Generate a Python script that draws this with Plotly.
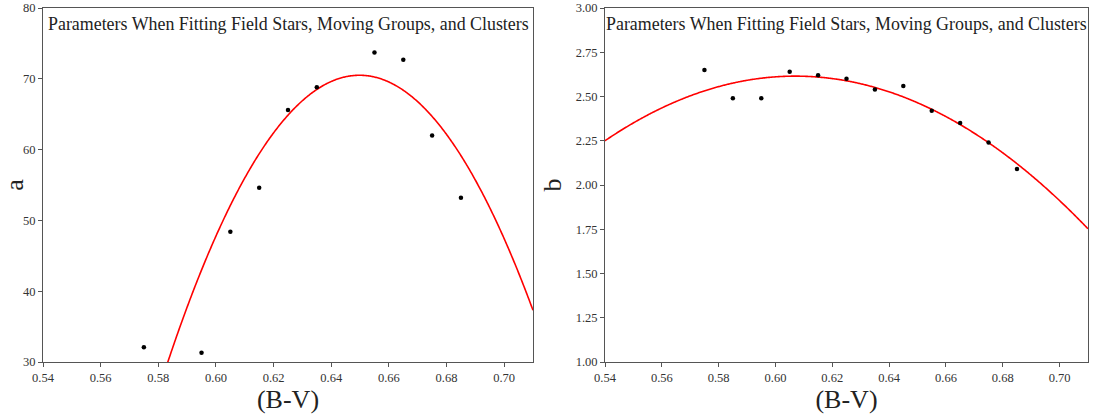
import numpy as np
import plotly.graph_objects as go

# Measured parameters per (B-V) bin
bv_a = [0.575, 0.595, 0.605, 0.615, 0.625, 0.635, 0.655, 0.665, 0.675, 0.685]
a_vals = [32.1, 31.3, 48.4, 54.6, 65.6, 68.8, 73.7, 72.7, 62.0, 53.2]

bv_b = [0.575, 0.585, 0.595, 0.605, 0.615, 0.625, 0.635, 0.645, 0.655, 0.665, 0.675, 0.685]
b_vals = [2.65, 2.49, 2.49, 2.64, 2.62, 2.60, 2.54, 2.56, 2.42, 2.35, 2.24, 2.09]

# Quadratic fits: vertex (x0, y0) and curvature k  ->  y = y0 - k (x - x0)^2
fit_a = [0.6498, 70.5, 9160.0]
fit_b = [0.607, 2.615, 81.3]

x_range = [0.54, 0.71]
x_ticks = [0.54, 0.56, 0.58, 0.60, 0.62, 0.64, 0.66, 0.68, 0.70]
a_ticks = [30, 40, 50, 60, 70, 80]
b_ticks = [1.00, 1.25, 1.50, 1.75, 2.00, 2.25, 2.50, 2.75, 3.00]

title_text = "Parameters When Fitting Field Stars, Moving Groups, and Clusters"
FONT = "Liberation Serif, Times New Roman, serif"

xs = np.linspace(x_range[0], x_range[1], 600)


def quad(p, x):
    return p[1] - p[2] * (x - p[0]) ** 2


fig = go.Figure()

fig.add_trace(go.Scatter(x=xs, y=quad(fit_a, xs), mode="lines",
                         line=dict(color="red", width=1.6, simplify=False),
                         xaxis="x", yaxis="y", showlegend=False))
fig.add_trace(go.Scatter(x=bv_a, y=a_vals, mode="markers",
                         marker=dict(color="black", size=4.5),
                         xaxis="x", yaxis="y", showlegend=False))
fig.add_trace(go.Scatter(x=xs, y=quad(fit_b, xs), mode="lines",
                         line=dict(color="red", width=1.6, simplify=False),
                         xaxis="x2", yaxis="y2", showlegend=False))
fig.add_trace(go.Scatter(x=bv_b, y=b_vals, mode="markers",
                         marker=dict(color="black", size=4.5),
                         xaxis="x2", yaxis="y2", showlegend=False))

W, H = 1094, 414
axis_common = dict(showgrid=False, zeroline=False, showline=True, mirror=True,
                   linecolor="#555555", linewidth=1, ticks="outside", ticklen=4,
                   tickcolor="#555555", automargin=False,
                   tickfont=dict(family=FONT, size=12.5, color="#333333"))

x_fmt = dict(range=x_range, tickvals=x_ticks, ticktext=[f"{v:.2f}" for v in x_ticks],
             title=dict(text="(B-V)", font=dict(family=FONT, size=26, color="#222222"), standoff=4))

fig.update_layout(
    width=W, height=H,
    margin=dict(l=0, r=0, t=8, b=52),
    plot_bgcolor="white", paper_bgcolor="white",
    xaxis=dict(domain=[43 / W, 533 / W], anchor="y", **x_fmt, **axis_common),
    yaxis=dict(domain=[0, 1], anchor="x", range=[30, 80], tickvals=a_ticks,
               ticktext=[str(v) for v in a_ticks],
               title=dict(text="a", font=dict(family=FONT, size=26, color="#222222"), standoff=6),
               **axis_common),
    xaxis2=dict(domain=[605 / W, 1088 / W], anchor="y2", **x_fmt, **axis_common),
    yaxis2=dict(domain=[0, 1], anchor="x2", range=[1.0, 3.0], tickvals=b_ticks,
                ticktext=[f"{v:.2f}" for v in b_ticks],
                title=dict(text="b", font=dict(family=FONT, size=26, color="#222222"), standoff=6),
                **axis_common),
)

for xref, yref in (("x domain", "y domain"), ("x2 domain", "y2 domain")):
    fig.add_annotation(text=title_text, xref=xref, yref=yref, x=0.5, y=0.99,
                       xanchor="center", yanchor="top", showarrow=False,
                       font=dict(family=FONT, size=17.9, color="#222222"))

fig.write_html("out.html")
